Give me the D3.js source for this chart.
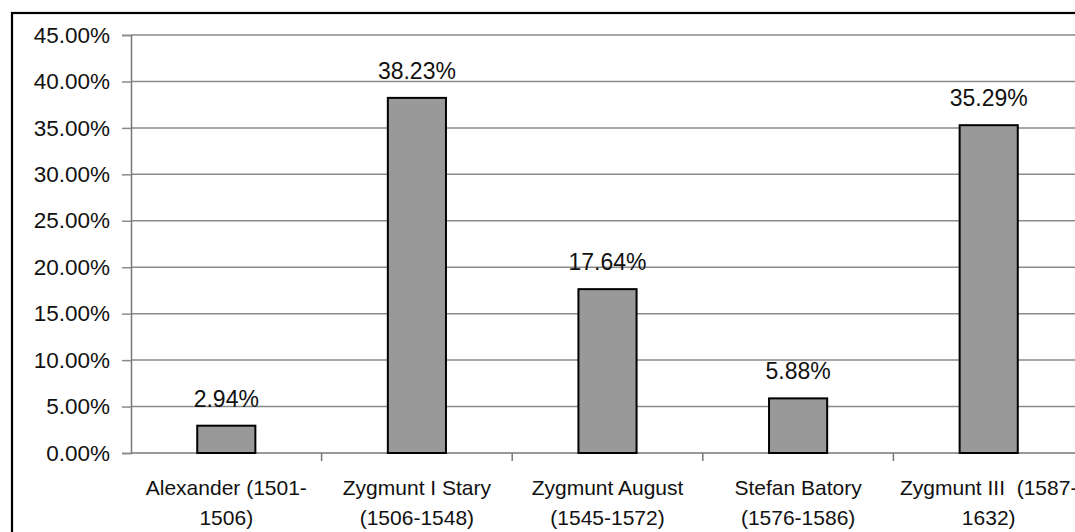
<!DOCTYPE html>
<html>
<head>
<meta charset="utf-8">
<script src="https://cdn.jsdelivr.net/npm/d3@7"></script>
<style>
  body { margin: 0; background: #fff; }
  svg { display: block; font-family: "Liberation Sans", Arial, sans-serif; }
</style>
</head>
<body>
<div class="chart"></div>
<script>
// data
const kings = [
  ["Alexander (1501-", "1506)"],
  ["Zygmunt I Stary", "(1506-1548)"],
  ["Zygmunt August", "(1545-1572)"],
  ["Stefan Batory", "(1576-1586)"],
  ["Zygmunt III  (1587-", "1632)"]
];
const shares = [2.94, 38.23, 17.64, 5.88, 35.29];
const yTicks = [0, 5, 10, 15, 20, 25, 30, 35, 40, 45];

const W = 1075, H = 532;
const margin = {top: 35, left: 131, bottom: 79};
const plotW = 953, plotH = H - margin.top - margin.bottom;

const svg = d3.select(".chart").append("svg")
    .attr("width", W)
    .attr("height", H);

// outer frame (runs off the right and bottom of the picture)
svg.append("rect")
    .attr("x", 12).attr("y", 13)
    .attr("width", W + 20).attr("height", H + 20)
    .attr("fill", "none")
    .attr("stroke", "#000")
    .attr("stroke-width", 2.2);

const g = svg.append("g")
    .attr("transform", "translate(" + margin.left + "," + margin.top + ")");

const x = d3.scaleBand()
    .domain(d3.range(kings.length))
    .range([0, plotW])
    .padding(0);

const y = d3.scaleLinear()
    .domain([0, 45])
    .range([plotH, 0]);

// gridlines
g.selectAll(".grid")
    .data(yTicks.slice(1))
  .enter().append("line")
    .attr("class", "grid")
    .attr("x1", 0).attr("x2", plotW)
    .attr("y1", d => y(d)).attr("y2", d => y(d))
    .attr("stroke", "#8a8a8a")
    .attr("stroke-width", 1.5);

// y axis
const yAxis = g.append("g")
    .call(d3.axisLeft(y).tickValues(yTicks)
      .tickSize(9).tickPadding(12)
      .tickFormat(d => d.toFixed(2) + "%"));
yAxis.select(".domain").attr("stroke", "#777").attr("stroke-width", 1.5);
yAxis.selectAll(".tick line").attr("stroke", "#8a8a8a").attr("stroke-width", 1.5);
yAxis.selectAll("text")
    .attr("fill", "#111")
    .style("font-size", "22.5px")
    .style("font-family", "Liberation Sans, Arial, sans-serif");

// x axis line and tick marks between categories
g.append("line")
    .attr("x1", 0).attr("x2", plotW)
    .attr("y1", plotH).attr("y2", plotH)
    .attr("stroke", "#777")
    .attr("stroke-width", 1.5);

g.selectAll(".xtick")
    .data(d3.range(1, kings.length))
  .enter().append("line")
    .attr("class", "xtick")
    .attr("x1", d => x(d)).attr("x2", d => x(d))
    .attr("y1", plotH).attr("y2", plotH + 8)
    .attr("stroke", "#777")
    .attr("stroke-width", 1.5);

// bars
const barW = x.bandwidth() * 0.305;
g.selectAll(".bar")
    .data(shares)
  .enter().append("rect")
    .attr("class", "bar")
    .attr("x", (d, i) => x(i) + (x.bandwidth() - barW) / 2)
    .attr("y", d => y(d))
    .attr("width", barW)
    .attr("height", d => plotH - y(d))
    .attr("fill", "#999999")
    .attr("stroke", "#000")
    .attr("stroke-width", 2);

// value labels
g.selectAll(".val")
    .data(shares)
  .enter().append("text")
    .attr("class", "val")
    .attr("x", (d, i) => x(i) + x.bandwidth() / 2)
    .attr("y", d => y(d) - 19)
    .attr("text-anchor", "middle")
    .attr("fill", "#111")
    .style("font-size", "23px")
    .text(d => d.toFixed(2) + "%");

// category labels, two lines each
const cat = g.selectAll(".cat")
    .data(kings)
  .enter().append("text")
    .attr("class", "cat")
    .attr("text-anchor", "middle")
    .attr("fill", "#111")
    .style("font-size", "21px")
    .style("white-space", "pre")
    .attr("transform", (d, i) => "translate(" + (x(i) + x.bandwidth() / 2) + "," + (plotH + 42) + ")");

cat.selectAll("tspan")
    .data(d => d)
  .enter().append("tspan")
    .attr("x", 0)
    .attr("y", (d, i) => i * 30)
    .text(d => d);
</script>
</body>
</html>
